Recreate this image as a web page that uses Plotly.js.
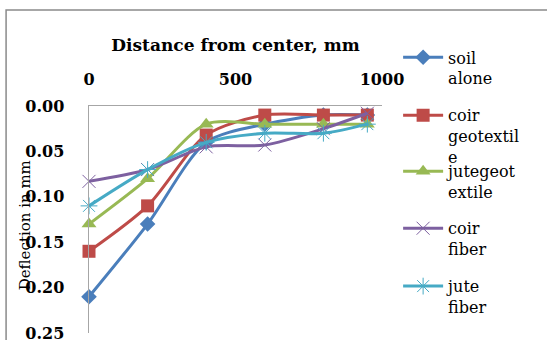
<!DOCTYPE html>
<html><head><meta charset="utf-8">
<script src="https://cdn.plot.ly/plotly-3.0.1.min.js"></script>
<style>html,body{margin:0;padding:0;background:#fff;}#chart{width:547px;height:340px;}</style>
</head><body><div id="chart"></div>
<script>
const distances = [0, 200, 400, 600, 800, 950];
const seriesNames = ["soil<br>alone", "coir<br>geotextil<br>e", "jutegeot<br>extile", "coir<br>fiber", "jute<br>fiber"];
const soilAlone      = [0.21, 0.13, 0.04, 0.02, 0.01, 0.01];
const coirGeotextile = [0.16, 0.11, 0.032, 0.01, 0.01, 0.01];
const juteGeotextile = [0.13, 0.08, 0.02, 0.02, 0.02, 0.02];
const coirFiber      = [0.083, 0.07, 0.045, 0.043, 0.025, 0.008];
const juteFiber      = [0.11, 0.07, 0.04, 0.03, 0.03, 0.02];
const xTicks = [0, 500, 1000];
const yTicks = [0, 0.05, 0.10, 0.15, 0.20, 0.25];

const seriesValues = [soilAlone, coirGeotextile, juteGeotextile, coirFiber, juteFiber];
const colors = ["#4A7EBB", "#BE4B48", "#98B954", "#7D60A0", "#46AAC5"];
const symbols = ["diamond", "square", "triangle-up", "x-thin-open", "asterisk-open"];
const msizes = [12, 13, 13, 13, 14];
const legendTops = [1.289, 1.034, 0.787, 0.536, 0.281];
const serif = "DejaVu Serif";

const traces = seriesValues.map((v, i) => ({
  x: distances, y: v, type: "scatter", mode: "lines+markers",
  name: seriesNames[i],
  legend: i === 0 ? "legend" : "legend" + (i + 1),
  line: {color: colors[i], width: 3, shape: "spline", smoothing: 0.8},
  marker: {symbol: symbols[i], size: msizes[i], color: colors[i],
           line: {color: colors[i], width: i >= 3 ? 1 : 0}},
  cliponaxis: false
}));

const layout = {
  width: 547, height: 340,
  margin: {l: 89, r: 165, t: 106, b: 7},
  paper_bgcolor: "#fff", plot_bgcolor: "#fff",
  font: {family: serif, color: "#000", size: 16},
  showlegend: true,
  xaxis: {
    side: "top", range: [0, 1000], tickvals: xTicks, ticktext: xTicks.map(String),
    showgrid: false, zeroline: false, showline: true, linecolor: "#a6a6a6", linewidth: 1.5,
    ticks: "", ticklabelstandoff: 13, ticklabeloverflow: "allow",
    tickfont: {family: serif, size: 16, weight: "bold"},
    title: {text: "Distance from center, mm", font: {family: serif, size: 17, weight: "bold"}, standoff: 14}
  },
  yaxis: {
    range: [0.25, 0], tickvals: yTicks, ticktext: yTicks.map(t => t.toFixed(2)),
    showgrid: false, zeroline: false, showline: true, linecolor: "#a6a6a6", linewidth: 1.5,
    ticks: "", ticklabelstandoff: 20, ticklabeloverflow: "allow",
    tickfont: {family: serif, size: 16, weight: "bold"}
  },
  annotations: [{
    text: "Deflection in mm", xref: "paper", yref: "paper", x: -0.218, y: 0.475,
    textangle: -90, showarrow: false, font: {family: serif, size: 15, color: "#000"},
    xanchor: "center", yanchor: "middle"
  }],
  shapes: [{
    type: "rect", xref: "paper", yref: "paper",
    x0: -0.283, x1: 1.61, y0: -0.075, y1: 1.423,
    line: {color: "#8a8a8a", width: 1.5}, fillcolor: "rgba(0,0,0,0)", layer: "below"
  }]
};
legendTops.forEach((yTop, i) => {
  const key = i === 0 ? "legend" : "legend" + (i + 1);
  layout[key] = {x: 1.055, y: yTop, xanchor: "left", yanchor: "top", valign: "top",
    bgcolor: "rgba(0,0,0,0)", borderwidth: 0, font: {family: serif, size: 16, color: "#000"},
    itemwidth: 40};
});

Plotly.newPlot("chart", traces, layout, {displayModeBar: false, staticPlot: true});
</script></body></html>
